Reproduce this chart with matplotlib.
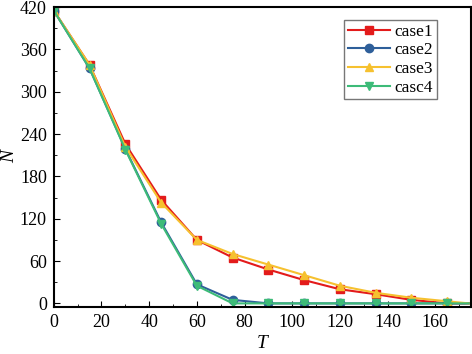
import matplotlib.pyplot as plt

# sample times (markers every 15, last point is the line end)
T = [0, 15, 30, 45, 60, 75, 90, 105, 120, 135, 150, 165, 174]

case1 = [415, 338, 226, 147, 90, 65, 48, 33, 20, 13, 5, 0, 0]
case2 = [415, 333, 219, 115, 27, 5, 0, 0, 0, 0, 0, 0, 0]
case3 = [415, 338, 222, 143, 90, 70, 55, 40, 25, 15, 8, 3, 0]
case4 = [415, 333, 218, 113, 25, 0, 0, 0, 0, 0, 0, 0, 0]

labels = ['case1', 'case2', 'case3', 'casc4']
colors = ['#e31b1b', '#2e5f9a', '#f6c12f', '#3dbb78']
markers = ['s', 'o', '^', 'v']

plt.rcParams['font.family'] = 'Liberation Serif'

fig = plt.figure(figsize=(4.72, 3.54), dpi=100)
ax = fig.add_axes([0.114, 0.133, 0.884, 0.847])

for y, lab, c, m in zip([case1, case2, case3, case4], labels, colors, markers):
    ax.plot(T, y, color=c, marker=m, markersize=6, linewidth=1.5,
            label=lab, markevery=slice(0, 12))

ax.set_xlim(0, 175)
ax.set_ylim(-5, 420)
ax.set_xticks(range(0, 161, 20))
ax.set_xticks(range(10, 171, 20), minor=True)
ax.set_yticks(range(0, 421, 60))
ax.set_yticks(range(30, 420, 60), minor=True)
ax.tick_params(which='both', direction='in', labelsize=13, top=False, right=False)
ax.tick_params(which='major', length=4)
ax.tick_params(which='minor', length=2.5)
ax.tick_params(axis='x', pad=5)
ax.tick_params(axis='y', pad=5)
for s in ax.spines.values():
    s.set_linewidth(1.5)

ax.set_xlabel('T', fontsize=14, style='italic', labelpad=3)
ax.set_ylabel('N', fontsize=14, style='italic', labelpad=1)

leg = ax.legend(loc='upper right', bbox_to_anchor=(0.918, 0.957), fontsize=12.5,
                fancybox=False, framealpha=1, edgecolor='#777777',
                handlelength=2.4, borderpad=0.2, labelspacing=0.15,
                handletextpad=0.3, borderaxespad=0)

fig.savefig('out.png', dpi=100)
